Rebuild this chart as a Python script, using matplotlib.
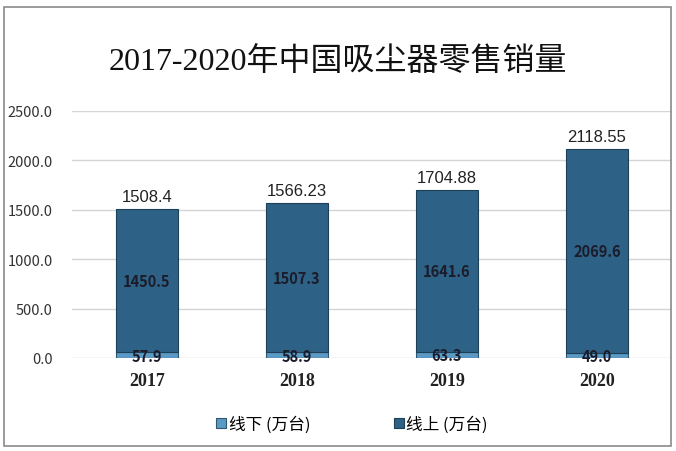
import matplotlib
matplotlib.use("Agg")
import matplotlib.pyplot as plt
from matplotlib.patches import Rectangle
import numpy as np

plt.rcParams['font.family'] = ['Noto Sans CJK SC', 'DejaVu Sans']

years = ['2017', '2018', '2019', '2020']
offline = [57.9, 58.9, 63.3, 49.0]
online = [1450.5, 1507.3, 1641.6, 2069.6]
totals = ['1508.4', '1566.23', '1704.88', '2118.55']
yticks = [0, 500, 1000, 1500, 2000, 2500]

fig = plt.figure(figsize=(6.76, 4.52), dpi=100)
fig.patches.append(Rectangle((4/676, 1-447/452), 667/676, 439/452, transform=fig.transFigure,
                             fill=False, edgecolor='#8a8a8a', linewidth=1.2))
ax = fig.add_axes([72/676, 1-359/452, 600/676, 247/452])

x = np.arange(len(years))
w = 0.41
b1 = ax.bar(x, offline, w, color='#5b9ac4', edgecolor='#2f5670', linewidth=0.8, zorder=3)
b2 = ax.bar(x, online, w, bottom=offline, color='#2d6185', edgecolor='#1d3f57', linewidth=0.8, zorder=3)

for i in range(len(years)):
    ax.text(x[i], offline[i] / 2 - 5, f'{offline[i]:.1f}', ha='center', va='center',
            fontsize=10.5, fontweight='bold', color='#1b1b2a', zorder=4)
    ax.text(x[i], offline[i] + online[i] / 2, f'{online[i]:.1f}', ha='center', va='center',
            fontsize=10.5, fontweight='bold', color='#1b1b2a', zorder=4)
    ax.text(x[i], offline[i] + online[i] + 50, totals[i], ha='center', va='bottom',
            fontsize=12, color='#222222', family=['Liberation Sans', 'DejaVu Sans'], zorder=4)

ax.set_xlim(-0.5, len(years) - 0.5)
ax.set_ylim(0, 2500)
ax.set_yticks(yticks)
ax.set_yticklabels([f'{v:.1f}' for v in yticks], fontsize=10.5, color='#333333')
ax.set_xticks(x)
ax.set_xticklabels(years, fontsize=13, fontweight='bold', color='#222222',
                   family=['Liberation Serif', 'DejaVu Serif'])
ax.tick_params(axis='both', length=0)
ax.tick_params(axis='y', pad=14)
ax.tick_params(axis='x', pad=10)
ax.grid(axis='y', color='#d4d4d4', linewidth=1, zorder=0)
for s in ax.spines.values():
    s.set_visible(False)

fig.text(0.5, 1 - 62/452, '2017-2020年中国吸尘器零售销量', ha='center', va='center',
         fontsize=23, fontweight='medium', color='#111111',
         family=['Liberation Serif', 'Noto Sans CJK SC'])

leg = fig.legend([b1, b2], ['线下 (万台)', '线上 (万台)'], loc='center',
                 bbox_to_anchor=(352/676, 1 - 425/452), ncol=2, frameon=False,
                 fontsize=12, handlelength=0.6, handleheight=0.6, handletextpad=0.15,
                 columnspacing=5.0)

fig.savefig('out.png', dpi=100)
